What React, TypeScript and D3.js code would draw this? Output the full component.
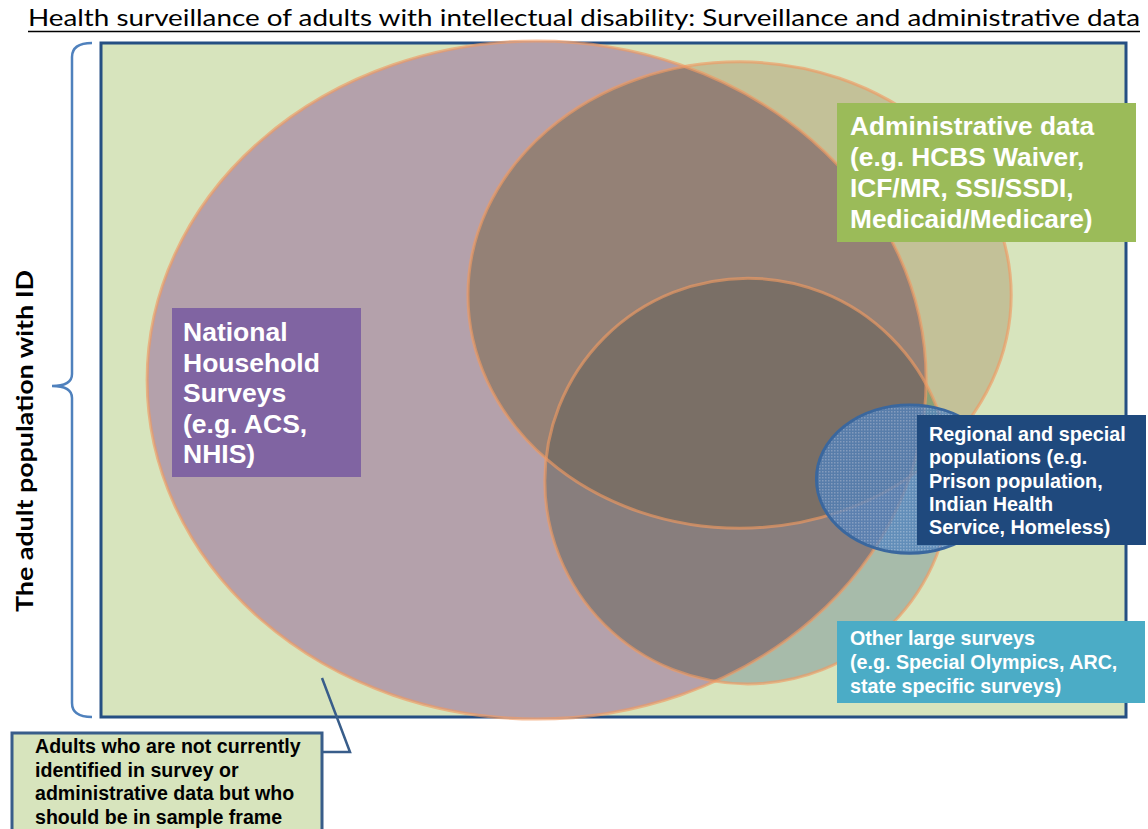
import * as d3 from "d3";

// Venn sets, geometry in % of the population frame (0-100 on each axis)
const setKeys = ["A", "B", "C", "D"];
const setNames = [
  "National Household Surveys",
  "Administrative data",
  "Other large surveys",
  "Regional and special populations",
];
const setCx = [42.5, 62.3, 63.1, 78.9];
const setCy = [50.0, 37.4, 65.0, 64.7];
const setRx = [38.0, 26.5, 19.8, 9.1];
const setRy = [50.3, 34.6, 30.1, 11.0];

// label text lines
const titleText =
  "Health surveillance of adults with intellectual disability: Surveillance and administrative data";
const yLabel = "The adult population with ID";
const nhsLines = ["National", "Household", "Surveys", "(e.g. ACS,", "NHIS)"];
const adminLines = [
  "Administrative data",
  "(e.g. HCBS Waiver,",
  "ICF/MR, SSI/SSDI,",
  "Medicaid/Medicare)",
];
const regionalLines = [
  "Regional and special",
  "populations (e.g.",
  "Prison population,",
  "Indian Health",
  "Service, Homeless)",
];
const otherLines = [
  "Other large surveys",
  "(e.g. Special Olympics, ARC,",
  "state specific surveys)",
];
const calloutLines = [
  "Adults who are not currently",
  "identified in survey or",
  "administrative data but who",
  "should be in sample frame",
];

const W = 1148;
const H = 829;
const frame = { x0: 101, x1: 1126, y0: 43, y1: 717 };

const x = d3.scaleLinear().domain([0, 100]).range([frame.x0, frame.x1]);
const y = d3.scaleLinear().domain([0, 100]).range([frame.y0, frame.y1]);
const rxs = d3.scaleLinear().domain([0, 100]).range([0, frame.x1 - frame.x0]);
const rys = d3.scaleLinear().domain([0, 100]).range([0, frame.y1 - frame.y0]);

const regionColor: Record<string, string> = {
  A: "#b4a1ab",
  B: "#c3c198",
  AB: "#948176",
  C: "#a7bbaa",
  BC: "#8aa076",
  AC: "#887e7d",
  ABC: "#7a6f66",
};

const LABEL_FONT = "'Liberation Sans', Arial, sans-serif";
const TITLE_FONT = "Lato, 'Open Sans', sans-serif";

function Ell({ i, ...rest }: { i: number; [k: string]: any }) {
  return (
    <ellipse
      cx={x(setCx[i])}
      cy={y(setCy[i])}
      rx={rxs(setRx[i])}
      ry={rys(setRy[i])}
      {...rest}
    />
  );
}

function Label({
  box,
  fill,
  lines,
  tx,
  ty,
  lh,
  size,
  color = "#fff",
  stroke,
}: {
  box: [number, number, number, number];
  fill: string;
  lines: string[];
  tx: number;
  ty: number;
  lh: number;
  size: number;
  color?: string;
  stroke?: string;
}) {
  return (
    <g>
      <rect
        x={box[0]}
        y={box[1]}
        width={box[2]}
        height={box[3]}
        fill={fill}
        stroke={stroke ?? "none"}
        strokeWidth={stroke ? 3 : 0}
      />
      {lines.map((l, k) => (
        <text
          key={k}
          x={tx}
          y={ty + k * lh}
          fill={color}
          fontFamily={LABEL_FONT}
          fontWeight="bold"
          fontSize={size}
        >
          {l}
        </text>
      ))}
    </g>
  );
}

export default function App() {
  const iA = setKeys.indexOf("A");
  const iB = setKeys.indexOf("B");
  const iC = setKeys.indexOf("C");
  const iD = setKeys.indexOf("D");
  const midY = (frame.y0 + frame.y1) / 2 + 6;

  return (
    <svg
      width={W}
      height={H}
      viewBox={`0 0 ${W} ${H}`}
      style={{ position: "absolute", left: 0, top: 0, display: "block" }}
    >
      <defs>
        {[iA, iB, iC].map((i) => (
          <clipPath id={`clip-${setKeys[i]}`} key={i}>
            <Ell i={i} />
          </clipPath>
        ))}
        <pattern id="dots" width="3" height="3" patternUnits="userSpaceOnUse">
          <rect width="3" height="3" fill="#4f81bd" />
          <rect width="1.5" height="1.5" fill="#86a8d6" />
        </pattern>
      </defs>
      <rect width={W} height={H} fill="#fff" />

      {/* title */}
      <text
        x={28}
        y={26}
        fontFamily={TITLE_FONT}
        fontSize={22.5}
        textLength={1112}
        lengthAdjust="spacingAndGlyphs"
        fill="#000"
      >
        {titleText}
      </text>
      <line x1={28} x2={1140} y1={31.5} y2={31.5} stroke="#000" strokeWidth={1.5} />

      {/* frame */}
      <rect
        x={frame.x0}
        y={frame.y0}
        width={frame.x1 - frame.x0}
        height={frame.y1 - frame.y0}
        fill="#d7e4bd"
        stroke="#254f83"
        strokeWidth={3}
      />

      {/* regions */}
      <Ell i={iA} fill={regionColor.A} />
      <Ell i={iB} fill={regionColor.B} />
      <g clipPath="url(#clip-A)">
        <Ell i={iB} fill={regionColor.AB} />
      </g>
      <Ell i={iC} fill={regionColor.C} />
      <g clipPath="url(#clip-B)">
        <Ell i={iC} fill={regionColor.BC} />
      </g>
      <g clipPath="url(#clip-A)">
        <Ell i={iC} fill={regionColor.AC} />
      </g>
      <g clipPath="url(#clip-A)">
        <g clipPath="url(#clip-B)">
          <Ell i={iC} fill={regionColor.ABC} />
        </g>
      </g>
      {[iA, iB, iC].map((i) => (
        <Ell
          key={i}
          i={i}
          fill="none"
          stroke="#f09a62"
          strokeOpacity={0.65}
          strokeWidth={3}
        />
      ))}
      <Ell i={iD} fill="url(#dots)" fillOpacity={0.78} stroke="#3a679e" strokeWidth={3} />

      {/* bracket */}
      <path
        d={`M92,${frame.y0} Q72,${frame.y0} 72,${frame.y0 + 14} L72,${midY - 12} Q72,${midY} 52,${midY} Q72,${midY} 72,${midY + 12} L72,${frame.y1 - 14} Q72,${frame.y1} 92,${frame.y1}`}
        fill="none"
        stroke="#4f81bd"
        strokeWidth={2.5}
      />
      <text
        transform={`translate(33,441) rotate(-90)`}
        textAnchor="middle"
        fontFamily={TITLE_FONT}
        fontWeight="bold"
        fontSize={23}
        textLength={342}
        lengthAdjust="spacingAndGlyphs"
        fill="#000"
      >
        {yLabel}
      </text>

      {/* labels */}
      <Label
        box={[172, 308, 189, 169]}
        fill="#8064a2"
        lines={nhsLines}
        tx={183}
        ty={341}
        lh={30.5}
        size={26.5}
      />
      <Label
        box={[837, 103, 299, 139]}
        fill="#9bbb59"
        lines={adminLines}
        tx={850}
        ty={135}
        lh={31}
        size={26.3}
      />
      <Label
        box={[917, 415, 229, 130]}
        fill="#1f497d"
        lines={regionalLines}
        tx={929}
        ty={441}
        lh={23.3}
        size={19.8}
      />
      <Label
        box={[837, 621, 308, 82]}
        fill="#4bacc6"
        lines={otherLines}
        tx={850}
        ty={645}
        lh={24}
        size={19.7}
      />

      {/* callout */}
      <polyline
        points="322,752 350,752 322,678"
        fill="none"
        stroke="#385d8a"
        strokeWidth={2.5}
      />
      <Label
        box={[12, 733, 310, 110]}
        fill="#d7e4bd"
        stroke="#385d8a"
        lines={calloutLines}
        tx={35}
        ty={753}
        lh={23.5}
        size={19.6}
        color="#000"
      />
      <title>{setNames.join(", ")}</title>
    </svg>
  );
}
